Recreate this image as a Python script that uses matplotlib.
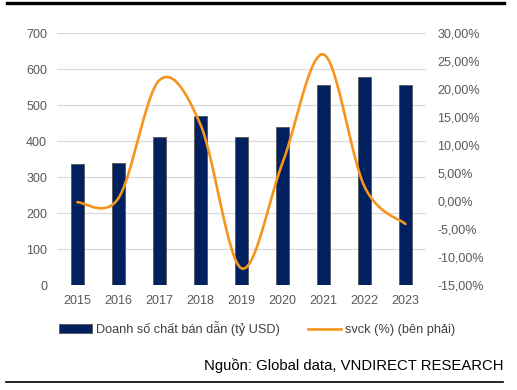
import matplotlib.pyplot as plt
import numpy as np
from matplotlib.lines import Line2D
from matplotlib.patches import Patch

plt.rcParams['font.family'] = ['Liberation Sans', 'DejaVu Sans']

years = ['2015', '2016', '2017', '2018', '2019', '2020', '2021', '2022', '2023']
sales = [336, 340, 412, 469, 412, 440, 556, 579, 556]
growth = [-0.2, 0.5, 21.6, 13.7, -12.0, 6.8, 26.2, 2.6, -4.1]

left_ticks = [0, 100, 200, 300, 400, 500, 600, 700]
right_ticks = [-15, -10, -5, 0, 5, 10, 15, 20, 25, 30]

navy = '#002060'
orange = '#F7941D'
tick_grey = '#595959'


def smooth(xs, ys, n=30):
    # excel-like smoothed line (catmull-rom through the points)
    xs = np.asarray(xs, float)
    ys = np.asarray(ys, float)
    px = np.concatenate([[xs[0]], xs, [xs[-1]]])
    py = np.concatenate([[ys[0]], ys, [ys[-1]]])
    out_x, out_y = [], []
    for i in range(1, len(px) - 2):
        p0x, p1x, p2x, p3x = px[i - 1:i + 3]
        p0y, p1y, p2y, p3y = py[i - 1:i + 3]
        c1x, c1y = p1x + (p2x - p0x) / 6, p1y + (p2y - p0y) / 6
        c2x, c2y = p2x - (p3x - p1x) / 6, p2y - (p3y - p1y) / 6
        t = np.linspace(0, 1, n)
        bx = (1 - t)**3 * p1x + 3 * (1 - t)**2 * t * c1x + 3 * (1 - t) * t**2 * c2x + t**3 * p2x
        by = (1 - t)**3 * p1y + 3 * (1 - t)**2 * t * c1y + 3 * (1 - t) * t**2 * c2y + t**3 * p2y
        out_x.extend(bx)
        out_y.extend(by)
    return out_x, out_y


fig = plt.figure(figsize=(5.17, 3.90), dpi=100)
ax = fig.add_axes([0.110, 0.269, 0.714, 0.646])
ax2 = ax.twinx()

x = np.arange(len(years))
ax.bar(x, sales, width=0.32, color=navy, edgecolor='#555555', linewidth=0.6, zorder=3)
ax.set_ylim(0, 700)
ax.set_yticks(left_ticks)
ax.set_xlim(-0.5, len(years) - 0.5)
ax.set_xticks(x)
ax.set_xticklabels(years)
ax.grid(axis='y', color='#D9D9D9', linewidth=0.9, zorder=0)
ax.set_axisbelow(True)

sx, sy = smooth(x, growth)
ax2.plot(sx, sy, color=orange, linewidth=1.9, solid_capstyle='round', zorder=4)
ax2.set_ylim(-15, 30)
ax2.set_yticks(right_ticks)
ax2.set_yticklabels([f'{v:.2f}%'.replace('.', ',') for v in right_ticks])

for a in (ax, ax2):
    for s in a.spines.values():
        s.set_visible(False)
    a.tick_params(length=0, labelsize=9, labelcolor=tick_grey)
ax.tick_params(axis='y', pad=7)
ax.tick_params(axis='x', pad=7)
ax2.tick_params(axis='y', pad=8)

handles = [Patch(facecolor=navy, edgecolor='#555555', linewidth=0.6),
           Line2D([0], [0], color=orange, linewidth=1.9)]
labels = ['Doanh số chất bán dẫn (tỷ USD)', 'svck (%) (bên phải)']
leg = fig.legend(handles, labels, loc='center', bbox_to_anchor=(0.497, 0.157), ncol=2,
                 frameon=False, fontsize=9.2, handlelength=2.6, handletextpad=0.3,
                 columnspacing=2.2)
for t in leg.get_texts():
    t.set_color('#404040')

fig.text(0.973, 0.063, 'Nguồn: Global data, VNDIRECT RESEARCH', ha='right', va='center',
         fontsize=10.7, color='black')

fig.add_artist(Line2D([0.014, 0.975], [0.993, 0.993], color='black', linewidth=2.4))
fig.add_artist(Line2D([0.012, 0.973], [0.021, 0.021], color='black', linewidth=1.2))

fig.savefig('out.png', dpi=100)
